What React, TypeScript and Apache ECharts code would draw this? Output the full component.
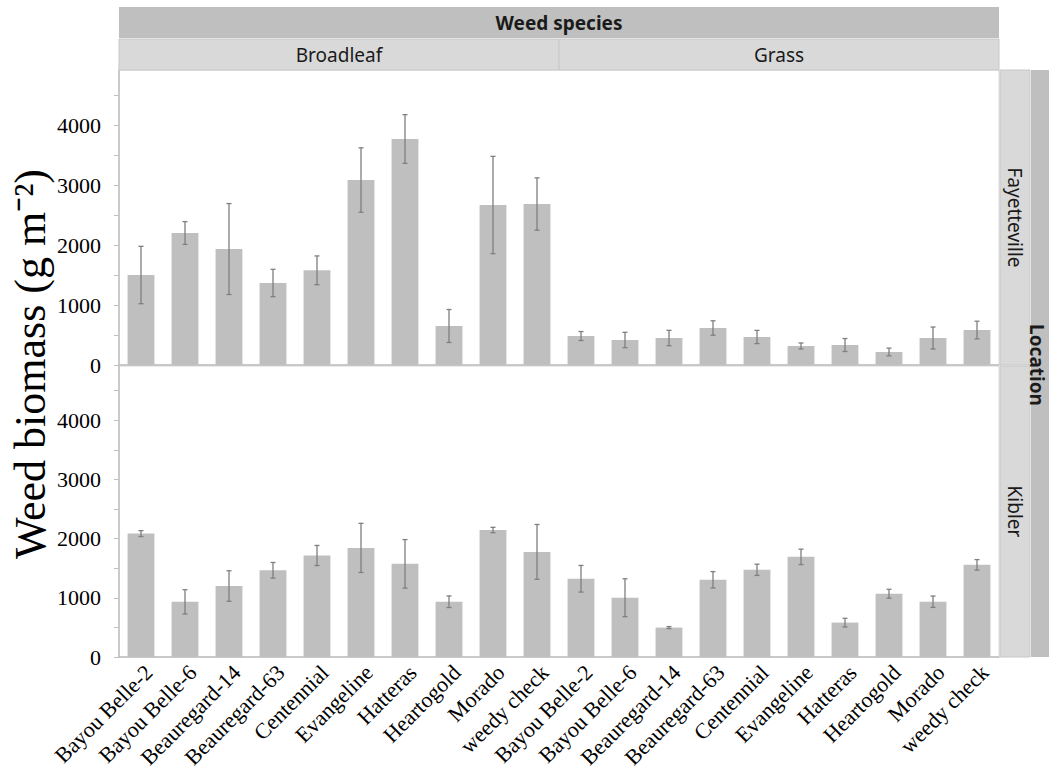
import React, { useEffect, useRef } from 'react';
import * as echarts from 'echarts';

const categories = ['Bayou Belle-2', 'Bayou Belle-6', 'Beauregard-14', 'Beauregard-63', 'Centennial', 'Evangeline', 'Hatteras', 'Heartogold', 'Morado', 'weedy check'];
const xLabels = [...categories, ...categories];

const fayBroadleaf = [1500, 2200, 1933, 1367, 1578, 3083, 3767, 650, 2667, 2683];
const fayBroadleafErr = [478, 190, 758, 228, 240, 537, 406, 275, 811, 436];
const fayGrass = [483, 417, 450, 617, 467, 317, 333, 217, 450, 583];
const fayGrassErr = [75, 128, 128, 120, 110, 50, 108, 64, 183, 147];

const kibBroadleaf = [2085, 932, 1200, 1465, 1715, 1843, 1574, 934, 2146, 1776];
const kibBroadleafErr = [50, 205, 258, 132, 170, 415, 410, 98, 45, 463];
const kibGrass = [1322, 1002, 497, 1305, 1473, 1692, 581, 1069, 934, 1557];
const kibGrassErr = [225, 320, 17, 138, 95, 130, 73, 75, 96, 89];

const yTickValues = [0, 500, 1000, 1500, 2000, 2500, 3000, 3500, 4000, 4500];
const yLabelValues = [0, 1000, 2000, 3000, 4000];
const Y_MAX = 4917;

const speciesTitle = 'Weed species';
const speciesGroups = ['Broadleaf', 'Grass'];
const locationTitle = 'Location';
const locations = ['Fayetteville', 'Kibler'];
const yTitle = 'Weed biomass (g m⁻²)';

const L = 119, R = 999, W = R - L;
const T1 = 70, H1 = 295, T2 = 366, H2 = 291;

const SERIF = "'Liberation Serif', 'Times New Roman', serif";
const SANS = "'Noto Sans', 'Open Sans', sans-serif";

function errData(means: number[], errs: number[]) {
  return means.map((m, i) => [i, m - errs[i], m + errs[i]]);
}

const renderErr = (params: any, api: any) => {
  const i = api.value(0);
  const lo = api.value(1);
  const hi = api.value(2);
  const top = api.coord([i, hi]);
  const bot = api.coord([i, lo]);
  const cw = 2.5;
  const style = { stroke: '#7f7f7f', lineWidth: 1.3 };
  return {
    type: 'group',
    children: [
      { type: 'line', shape: { x1: top[0], y1: top[1], x2: bot[0], y2: bot[1] }, style },
      { type: 'line', shape: { x1: top[0] - cw, y1: top[1], x2: top[0] + cw, y2: top[1] }, style },
      { type: 'line', shape: { x1: bot[0] - cw, y1: bot[1], x2: bot[0] + cw, y2: bot[1] }, style },
    ],
  };
};

export default function App() {
  const ref = useRef<HTMLDivElement>(null);
  useEffect(() => {
    if (!ref.current) return;
    const chart = echarts.init(ref.current, null, { renderer: 'svg' });

    const yAxis = (gridIndex: number) => ({
      type: 'value',
      gridIndex,
      min: 0,
      max: Y_MAX,
      axisLine: { show: true, lineStyle: { color: '#bfbfbf', width: 1.5 } },
      axisTick: { show: true, length: 5, customValues: yTickValues, lineStyle: { color: '#bfbfbf' } },
      axisLabel: {
        customValues: yLabelValues,
        fontFamily: SERIF,
        fontSize: 22,
        color: '#000',
        margin: 18,
        formatter: (v: number) => String(v),
      },
      splitLine: { show: false },
    });

    const xAxis = (gridIndex: number, showLabels: boolean) => ({
      type: 'category',
      gridIndex,
      data: xLabels,
      axisLine: { show: true, lineStyle: { color: '#bfbfbf', width: 1.5 } },
      axisTick: { show: false },
      axisLabel: showLabels
        ? { show: true, interval: 0, rotate: 45, fontFamily: SERIF, fontSize: 22, color: '#000', margin: 4, align: 'right', verticalAlign: 'top' }
        : { show: false },
    });

    const stripText = (text: string, x: number, y: number, bold: boolean, rotation = 0) => ({
      type: 'text',
      x,
      y,
      rotation,
      style: {
        text,
        fill: '#1a1a1a',
        fontSize: 19,
        fontFamily: SANS,
        fontWeight: bold ? 'bold' : 'normal',
        align: 'center',
        verticalAlign: 'middle',
        textAlign: 'center',
        textVerticalAlign: 'middle',
      },
      z: 10,
    });

    const mid = L + W / 2;

    const gridBase = { show: true, borderColor: '#d6d6d6', borderWidth: 1, backgroundColor: '#fff', containLabel: false, outerBoundsMode: 'none' };

    const option: any = {
      animation: false,
      grid: [
        { ...gridBase, left: L, top: T1, width: W, height: H1 },
        { ...gridBase, left: L, top: T2, width: W, height: H2 },
      ],
      xAxis: [xAxis(0, false), xAxis(1, true)],
      yAxis: [yAxis(0), yAxis(1)],
      series: [
        {
          type: 'bar', xAxisIndex: 0, yAxisIndex: 0, barWidth: '61%',
          itemStyle: { color: '#bfbfbf' },
          data: [...fayBroadleaf, ...fayGrass],
        },
        {
          type: 'custom', xAxisIndex: 0, yAxisIndex: 0, renderItem: renderErr,
          encode: { x: 0, y: [1, 2] }, z: 5,
          data: [...errData(fayBroadleaf, fayBroadleafErr), ...errData(fayGrass, fayGrassErr).map((d) => [d[0] + 10, d[1], d[2]])],
        },
        {
          type: 'bar', xAxisIndex: 1, yAxisIndex: 1, barWidth: '61%',
          itemStyle: { color: '#bfbfbf' },
          data: [...kibBroadleaf, ...kibGrass],
        },
        {
          type: 'custom', xAxisIndex: 1, yAxisIndex: 1, renderItem: renderErr,
          encode: { x: 0, y: [1, 2] }, z: 5,
          data: [...errData(kibBroadleaf, kibBroadleafErr), ...errData(kibGrass, kibGrassErr).map((d) => [d[0] + 10, d[1], d[2]])],
        },
      ],
      graphic: [
        // top strips
        { type: 'rect', shape: { x: L, y: 7, width: W, height: 31 }, style: { fill: '#bfbfbf' }, z: 1 },
        { type: 'rect', shape: { x: L, y: 39, width: W / 2, height: 31 }, style: { fill: '#d9d9d9', stroke: '#c8c8c8', lineWidth: 1 }, z: 1 },
        { type: 'rect', shape: { x: mid, y: 39, width: W / 2, height: 31 }, style: { fill: '#d9d9d9', stroke: '#c8c8c8', lineWidth: 1 }, z: 1 },
        stripText(speciesTitle, mid, 23, true),
        stripText(speciesGroups[0], L + W / 4, 55, false),
        stripText(speciesGroups[1], L + (3 * W) / 4, 55, false),
        // right strips
        { type: 'rect', shape: { x: 1000, y: T1, width: 30, height: H1 }, style: { fill: '#d9d9d9', stroke: '#c8c8c8', lineWidth: 1 }, z: 1 },
        { type: 'rect', shape: { x: 1000, y: T2, width: 30, height: H2 }, style: { fill: '#d9d9d9', stroke: '#c8c8c8', lineWidth: 1 }, z: 1 },
        { type: 'rect', shape: { x: 1031, y: T1, width: 30, height: T2 + H2 - T1 }, style: { fill: '#bfbfbf' }, z: 1 },
        stripText(locations[0], 1015, T1 + H1 / 2, false, -Math.PI / 2),
        stripText(locations[1], 1015, T2 + H2 / 2, false, -Math.PI / 2),
        stripText(locationTitle, 1037, 365, true, -Math.PI / 2),
        // y title
        {
          type: 'text', x: 30, y: 364, rotation: Math.PI / 2,
          style: {
            text: yTitle, fill: '#000', fontSize: 44, fontFamily: SERIF,
            align: 'center', verticalAlign: 'middle', textAlign: 'center', textVerticalAlign: 'middle',
          },
          z: 10,
        },
      ],
    };

    chart.setOption(option);
    return () => chart.dispose();
  }, []);

  return (
    <div
      ref={ref}
      style={{ position: 'fixed', left: 0, top: 0, width: 1049, height: 770, background: '#fff' }}
    />
  );
}
